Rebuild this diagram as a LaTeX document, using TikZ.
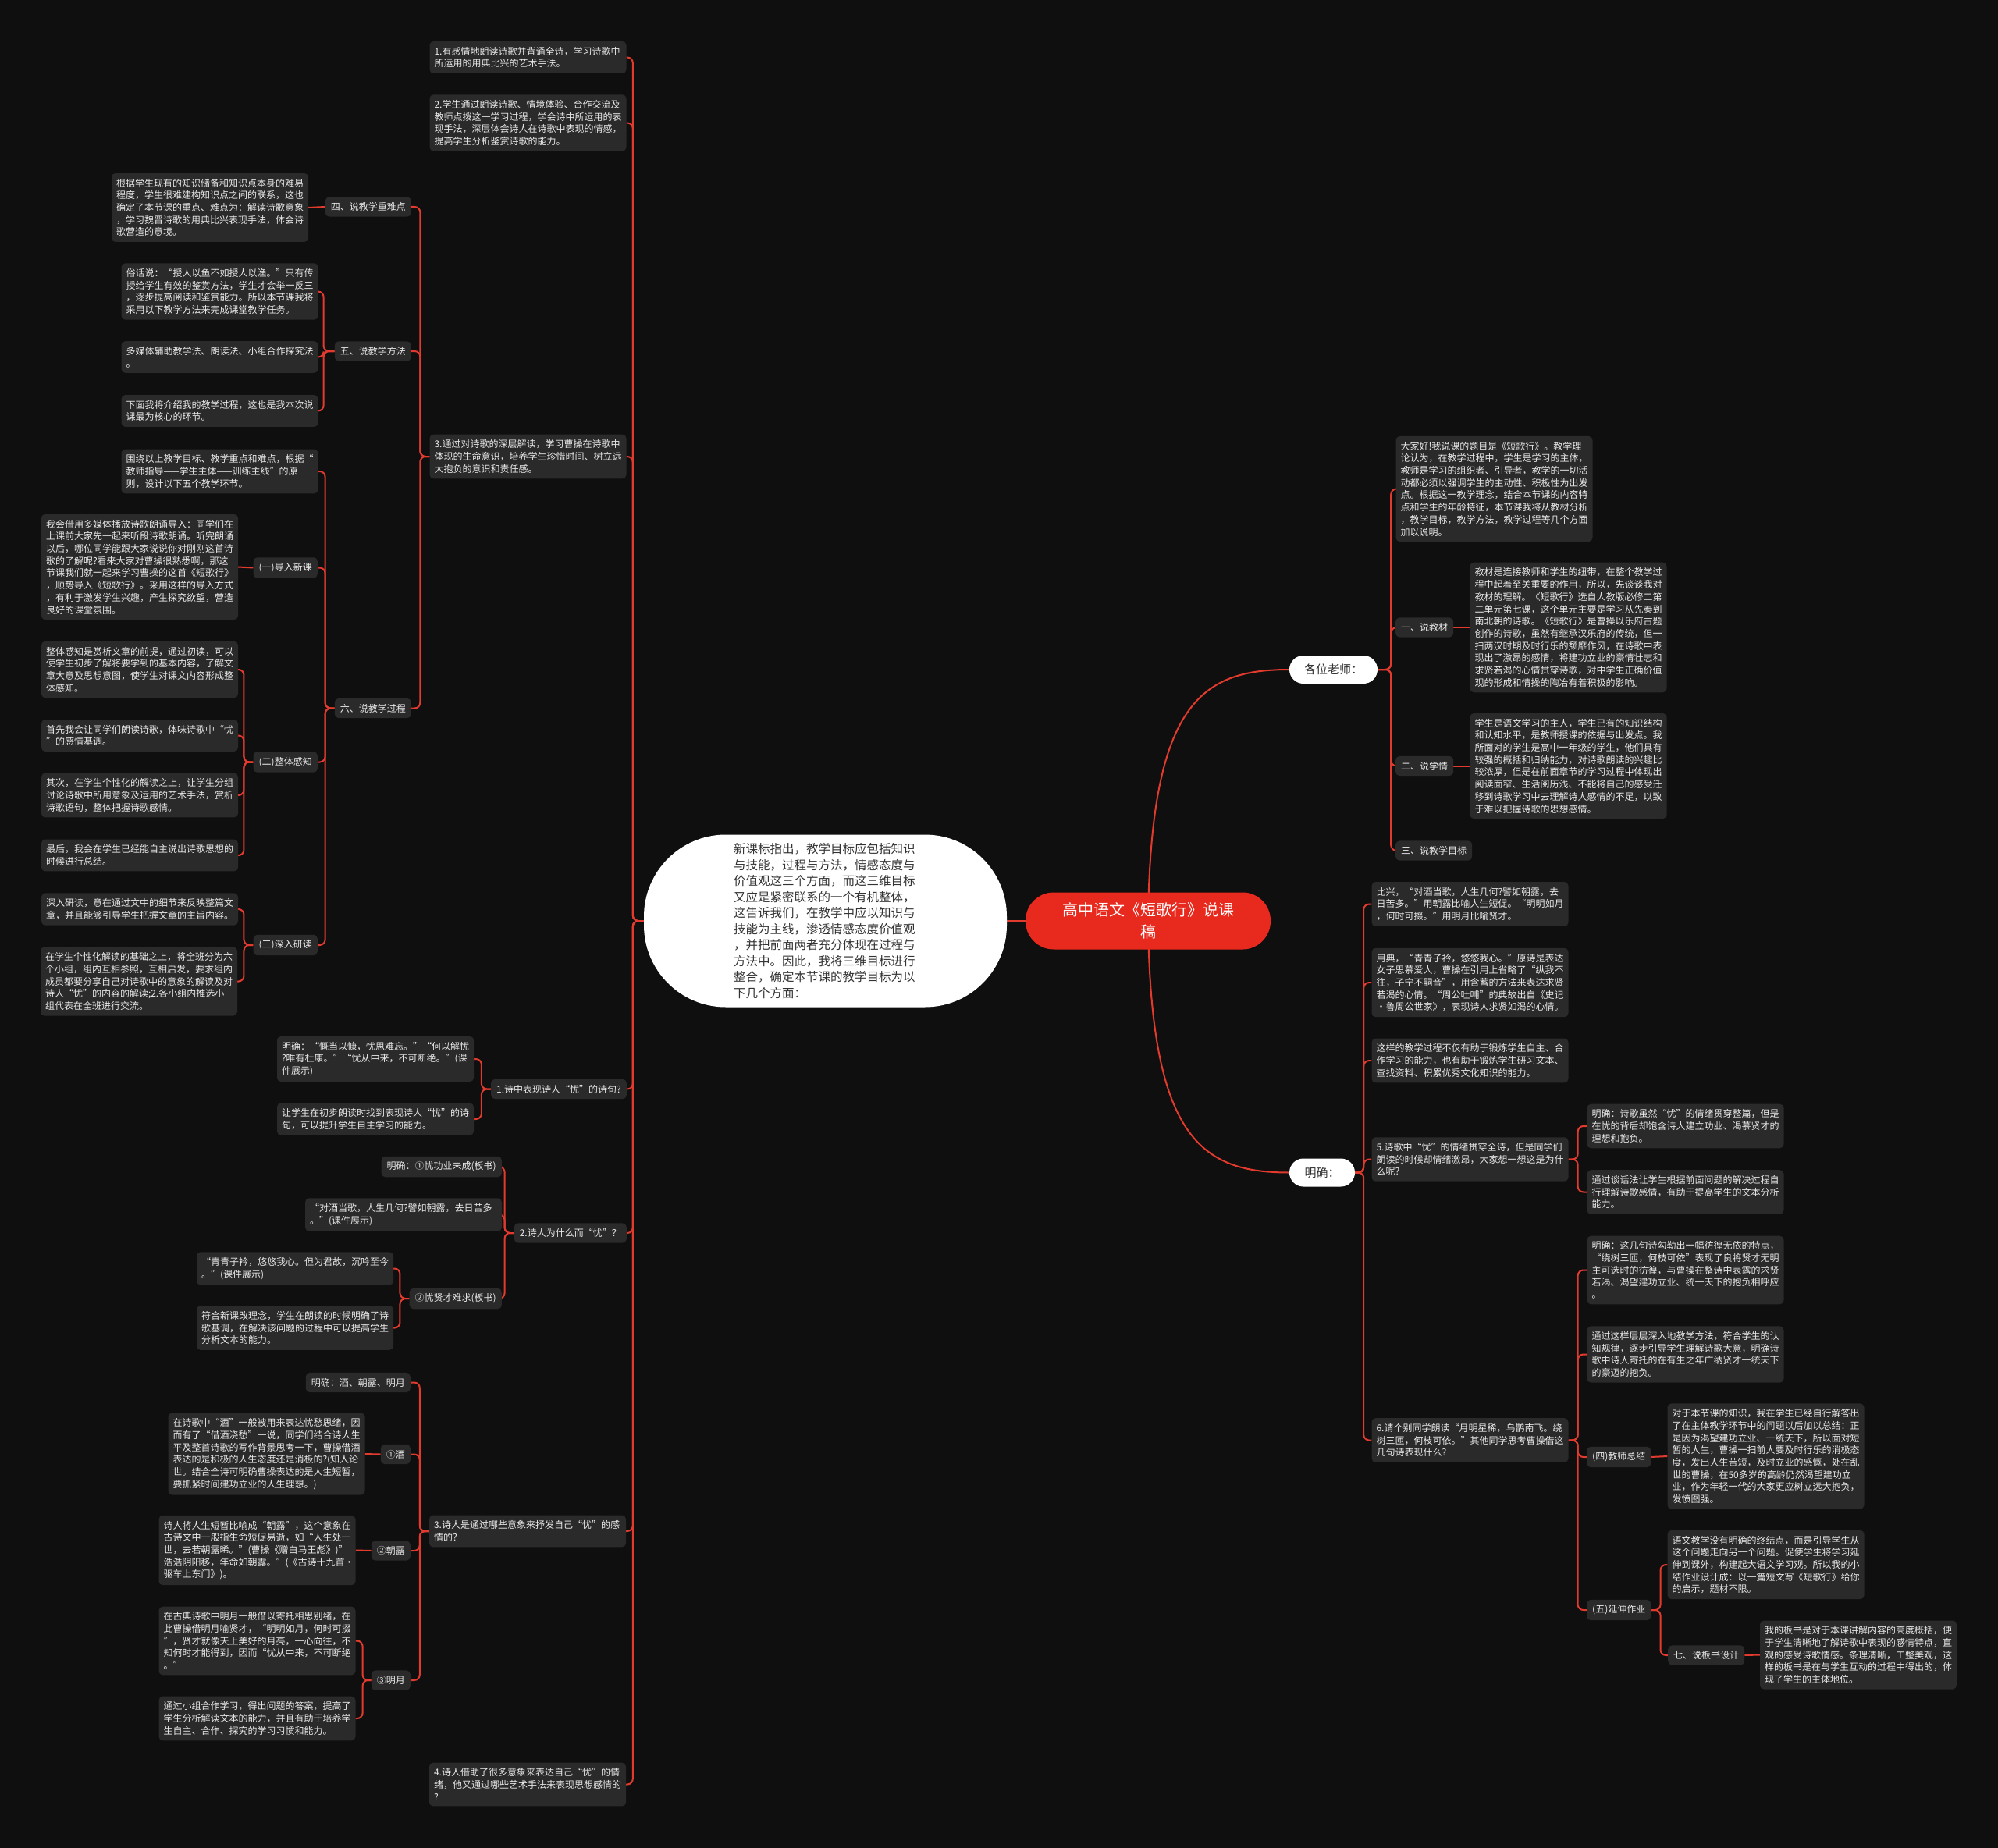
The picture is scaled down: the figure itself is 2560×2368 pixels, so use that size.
\documentclass[tikz,border=0pt]{standalone}
\usepackage{fontspec}
\setmainfont{Noto Sans CJK SC}
\usetikzlibrary{calc}
\definecolor{bgc}{HTML}{0F0F0F}
\definecolor{boxc}{HTML}{2A2A2A}
\definecolor{txtc}{HTML}{E8E8E8}
\definecolor{linkc}{HTML}{E23B2E}
\definecolor{rootc}{HTML}{E8291D}
\definecolor{darktxt}{HTML}{333333}
\pgfdeclarelayer{bgl}\pgfdeclarelayer{edges}\pgfsetlayers{bgl,edges,main}
\newcommand\fsm{\fontsize{12}{15.7}\selectfont}
\newcommand\lk[3][12]{\draw[link] (#2.west) -- ++(-#1,0) |- (#3.east);}
\newcommand\rk[3][12]{\draw[link] (#2.east) -- ++(#1,0) |- (#3.west);}
\begin{document}
\begin{tikzpicture}[x=1pt,y=-1pt,
  box/.style={fill=boxc,text=txtc,rounded corners=5,font=\fsm,inner xsep=6,inner ysep=7,text width=240,align=left},
  lab/.style={fill=boxc,text=txtc,rounded corners=5,font=\fsm,inner xsep=7,inner ysep=7},
  link/.style={draw=linkc,line width=2,rounded corners=7},
  cen/.style={fill=white,text=darktxt,rounded corners=105,minimum width=465,minimum height=221,text width=235,align=left,font=\fontsize{15.5}{20.5}\selectfont},
  rootn/.style={fill=rootc,text=white,rounded corners=36,minimum width=314,minimum height=73,align=center,font=\fontsize{20}{28}\selectfont},
  pill/.style={fill=white,text=darktxt,rounded corners=18,minimum height=36,font=\fontsize{15}{18}\selectfont}]
\begin{pgfonlayer}{bgl}
\fill[bgc] (0,0) rectangle (2560,2368);
\end{pgfonlayer}
\useasboundingbox (0,0) rectangle (2560,2368);

% centre
\node[cen] (cen) at (1057.5,1180) {新课标指出，教学目标应包括知识\\与技能，过程与方法，情感态度与\\价值观这三个方面，而这三维目标\\又应是紧密联系的一个有机整体，\\这告诉我们，在教学中应以知识与\\技能为主线，渗透情感态度价值观\\，并把前面两者充分体现在过程与\\方法中。因此，我将三维目标进行\\整合，确定本节课的教学目标为以\\下几个方面：};
\node[rootn] (root) at (1471,1180) {高中语文《短歌行》说课\\稿};
\node[pill,minimum width=113] (gw) at (1708.5,858) {各位老师：};
\node[pill,minimum width=84] (mq) at (1694,1502.5) {明确：};

% left upper
\node[box] (a1) at (676.5,73.5) {1.有感情地朗读诗歌并背诵全诗，学习诗歌中\\所运用的用典比兴的艺术手法。};
\node[box] (a2) at (676.5,157.5) {2.学生通过朗读诗歌、情境体验、合作交流及\\教师点拨这一学习过程，学会诗中所运用的表\\现手法，深层体会诗人在诗歌中表现的情感，\\提高学生分析鉴赏诗歌的能力。};
\node[box] (a3) at (676.5,585) {3.通过对诗歌的深层解读，学习曹操在诗歌中\\体现的生命意识，培养学生珍惜时间、树立远\\大抱负的意识和责任感。};
\node[lab,anchor=east] (b4) at (527,265) {四、说教学重难点};
\node[box] (b4a) at (269,266) {根据学生现有的知识储备和知识点本身的难易\\程度，学生很难建构知识点之间的联系，这也\\确定了本节课的重点、难点为：解读诗歌意象\\，学习魏晋诗歌的用典比兴表现手法，体会诗\\歌营造的意境。};
\node[lab,anchor=east] (b5) at (527,450) {五、说教学方法};
\node[box] (b5a) at (281.5,373.5) {俗话说：“授人以鱼不如授人以渔。”只有传\\授给学生有效的鉴赏方法，学生才会举一反三\\，逐步提高阅读和鉴赏能力。所以本节课我将\\采用以下教学方法来完成课堂教学任务。};
\node[box] (b5b) at (281.5,457.5) {多媒体辅助教学法、朗读法、小组合作探究法\\。};
\node[box] (b5c) at (281.5,526.5) {下面我将介绍我的教学过程，这也是我本次说\\课最为核心的环节。};
\node[lab,anchor=east] (b6) at (527,907.5) {六、说教学过程};
\node[box] (b6a) at (281.5,604) {围绕以上教学目标、教学重点和难点，根据“\\教师指导——学生主体——训练主线”的原\\则，设计以下五个教学环节。};
\node[lab,anchor=east] (c1) at (407,727.5) {(一)导入新课};
\node[box] (c1a) at (179,726.5) {我会借用多媒体播放诗歌朗诵导入：同学们在\\上课前大家先一起来听段诗歌朗诵。听完朗诵\\以后，哪位同学能跟大家说说你对刚刚这首诗\\歌的了解呢?看来大家对曹操很熟悉啊，那这\\节课我们就一起来学习曹操的这首《短歌行》\\，顺势导入《短歌行》。采用这样的导入方式\\，有利于激发学生兴趣，产生探究欲望，营造\\良好的课堂氛围。};
\node[lab,anchor=east] (c2) at (407,976.5) {(二)整体感知};
\node[box] (c2a) at (179,858) {整体感知是赏析文章的前提，通过初读，可以\\使学生初步了解将要学到的基本内容，了解文\\章大意及思想意图，使学生对课文内容形成整\\体感知。};
\node[box] (c2b) at (179,942.5) {首先我会让同学们朗读诗歌，体味诗歌中“忧\\”的感情基调。};
\node[box] (c2c) at (179,1019) {其次，在学生个性化的解读之上，让学生分组\\讨论诗歌中所用意象及运用的艺术手法，赏析\\诗歌语句，整体把握诗歌感情。};
\node[box] (c2d) at (179,1096) {最后，我会在学生已经能自主说出诗歌思想的\\时候进行总结。};
\node[lab,anchor=east] (c3) at (407,1211) {(三)深入研读};
\node[box] (c3a) at (179,1165) {深入研读，意在通过文中的细节来反映整篇文\\章，并且能够引导学生把握文章的主旨内容。};
\node[box] (c3b) at (178,1257.5) {在学生个性化解读的基础之上，将全班分为六\\个小组，组内互相参照，互相启发，要求组内\\成员都要分享自己对诗歌中的意象的解读及对\\诗人“忧”的内容的解读;2.各小组内推选小\\组代表在全班进行交流。};

% left lower
\node[lab,anchor=east] (q1) at (803,1395.5) {1.诗中表现诗人“忧”的诗句?};
\node[box] (q1a) at (481,1357) {明确：“慨当以慷，忧思难忘。”“何以解忧\\?唯有杜康。”“忧从中来，不可断绝。”(课\\件展示)};
\node[box] (q1b) at (481,1434) {让学生在初步朗读时找到表现诗人“忧”的诗\\句，可以提升学生自主学习的能力。};
\node[lab,anchor=east] (q2) at (803,1580) {2.诗人为什么而“忧”？};
\node[lab,anchor=east] (q2a) at (643,1495) {明确：①忧功业未成(板书)};
\node[box] (q2b) at (517,1556.5) {“对酒当歌，人生几何?譬如朝露，去日苦多\\。”(课件展示)};
\node[lab,anchor=east] (q2c) at (643,1664) {②忧贤才难求(板书)};
\node[box] (q2c1) at (378,1625.5) {“青青子衿，悠悠我心。但为君故，沉吟至今\\。”(课件展示)};
\node[box] (q2c2) at (378,1701.5) {符合新课改理念，学生在朗读的时候明确了诗\\歌基调，在解决该问题的过程中可以提高学生\\分析文本的能力。};
\node[box] (q3) at (676,1962) {3.诗人是通过哪些意象来抒发自己“忧”的感\\情的?};
\node[lab,anchor=east] (q3a) at (526,1771.5) {明确：酒、朝露、明月};
\node[lab,anchor=east] (q3b) at (526,1863.5) {①酒};
\node[box] (q3b1) at (341.5,1863) {在诗歌中“酒”一般被用来表达忧愁思绪，因\\而有了“借酒浇愁”一说，同学们结合诗人生\\平及整首诗歌的写作背景思考一下，曹操借酒\\表达的是积极的人生态度还是消极的?(知人论\\世。结合全诗可明确曹操表达的是人生短暂，\\要抓紧时间建功立业的人生理想。)};
\node[lab,anchor=east] (q3c) at (526,1987) {②朝露};
\node[box] (q3c1) at (329.5,1986.5) {诗人将人生短暂比喻成“朝露”，这个意象在\\古诗文中一般指生命短促易逝，如“人生处一\\世，去若朝露晞。”(曹操《赠白马王彪》)”\\浩浩阴阳移，年命如朝露。”(《古诗十九首•\\驱车上东门》)。};
\node[lab,anchor=east] (q3d) at (526,2153) {③明月};
\node[box] (q3d1) at (329.5,2102.5) {在古典诗歌中明月一般借以寄托相思别绪，在\\此曹操借明月喻贤才，“明明如月，何时可掇\\”，贤才就像天上美好的月亮，一心向往，不\\知何时才能得到，因而“忧从中来，不可断绝\\。”};
\node[box] (q3d2) at (329.5,2202) {通过小组合作学习，得出问题的答案，提高了\\学生分析解读文本的能力，并且有助于培养学\\生自主、合作、探究的学习习惯和能力。};
\node[box] (q4) at (676,2286.5) {4.诗人借助了很多意象来表达自己“忧”的情\\绪，他又通过哪些艺术手法来表现思想感情的\\?};

% right upper
\node[box] (r1) at (1914.5,626.5) {大家好!我说课的题目是《短歌行》。教学理\\论认为，在教学过程中，学生是学习的主体，\\教师是学习的组织者、引导者，教学的一切活\\动都必须以强调学生的主动性、积极性为出发\\点。根据这一教学理念，结合本节课的内容特\\点和学生的年龄特征，本节课我将从教材分析\\，教学目标，教学方法，教学过程等几个方面\\加以说明。};
\node[lab,anchor=west] (r2) at (1788,804) {一、说教材};
\node[box] (r2a) at (2009.5,804) {教材是连接教师和学生的纽带，在整个教学过\\程中起着至关重要的作用，所以，先谈谈我对\\教材的理解。《短歌行》选自人教版必修二第\\二单元第七课，这个单元主要是学习从先秦到\\南北朝的诗歌。《短歌行》是曹操以乐府古题\\创作的诗歌，虽然有继承汉乐府的传统，但一\\扫两汉时期及时行乐的颓靡作风，在诗歌中表\\现出了激昂的感情，将建功立业的豪情壮志和\\求贤若渴的心情贯穿诗歌，对中学生正确价值\\观的形成和情操的陶冶有着积极的影响。};
\node[lab,anchor=west] (r3) at (1788,981.5) {二、说学情};
\node[box] (r3a) at (2009.5,981.5) {学生是语文学习的主人，学生已有的知识结构\\和认知水平，是教师授课的依据与出发点。我\\所面对的学生是高中一年级的学生，他们具有\\较强的概括和归纳能力，对诗歌朗读的兴趣比\\较浓厚，但是在前面章节的学习过程中体现出\\阅读面窄、生活阅历浅、不能将自己的感受迁\\移到诗歌学习中去理解诗人感情的不足，以致\\于难以把握诗歌的思想感情。};
\node[lab,anchor=west] (r4) at (1788,1090) {三、说教学目标};

% right lower
\node[box] (m1) at (1883.5,1158.5) {比兴，“对酒当歌，人生几何?譬如朝露，去\\日苦多。”用朝露比喻人生短促。“明明如月\\，何时可掇。”用明月比喻贤才。};
\node[box] (m2) at (1883.5,1259) {用典，“青青子衿，悠悠我心。”原诗是表达\\女子思慕爱人，曹操在引用上省略了“纵我不\\往，子宁不嗣音”，用含蓄的方法来表达求贤\\若渴的心情。“周公吐哺”的典故出自《史记\\•鲁周公世家》，表现诗人求贤如渴的心情。};
\node[box] (m3) at (1883.5,1359) {这样的教学过程不仅有助于锻炼学生自主、合\\作学习的能力，也有助于锻炼学生研习文本、\\查找资料、积累优秀文化知识的能力。};
\node[box] (m4) at (1883.5,1485.5) {5.诗歌中“忧”的情绪贯穿全诗，但是同学们\\朗读的时候却情绪激昂，大家想一想这是为什\\么呢?};
\node[box] (m4a) at (2159.5,1443) {明确：诗歌虽然“忧”的情绪贯穿整篇，但是\\在忧的背后却饱含诗人建立功业、渴慕贤才的\\理想和抱负。};
\node[box] (m4b) at (2159.5,1527.5) {通过谈话法让学生根据前面问题的解决过程自\\行理解诗歌感情，有助于提高学生的文本分析\\能力。};
\node[box] (m5) at (1883.5,1845.5) {6.请个别同学朗读“月明星稀，乌鹊南飞。绕\\树三匝，何枝可依。”其他同学思考曹操借这\\几句诗表现什么?};
\node[box] (m5a) at (2159.5,1627.5) {明确：这几句诗勾勒出一幅彷徨无依的特点，\\“绕树三匝，何枝可依”表现了良将贤才无明\\主可选时的彷徨，与曹操在整诗中表露的求贤\\若渴、渴望建功立业、统一天下的抱负相呼应\\。};
\node[box] (m5b) at (2159.5,1735.5) {通过这样层层深入地教学方法，符合学生的认\\知规律，逐步引导学生理解诗歌大意，明确诗\\歌中诗人寄托的在有生之年广纳贤才一统天下\\的豪迈的抱负。};
\node[lab,anchor=west] (m5c) at (2033,1867) {(四)教师总结};
\node[box] (m5c1) at (2262.5,1866) {对于本节课的知识，我在学生已经自行解答出\\了在主体教学环节中的问题以后加以总结：正\\是因为渴望建功立业、一统天下，所以面对短\\暂的人生，曹操一扫前人要及时行乐的消极态\\度，发出人生苦短，及时立业的感慨，处在乱\\世的曹操，在50多岁的高龄仍然渴望建功立\\业，作为年轻一代的大家更应树立远大抱负，\\发愤图强。};
\node[lab,anchor=west] (m5d) at (2033,2063) {(五)延伸作业};
\node[box] (m5d1) at (2262.5,2005) {语文教学没有明确的终结点，而是引导学生从\\这个问题走向另一个问题。促使学生将学习延\\伸到课外，构建起大语文学习观。所以我的小\\结作业设计成：以一篇短文写《短歌行》给你\\的启示，题材不限。};
\node[lab,anchor=west] (m5d2) at (2137,2121) {七、说板书设计};
\node[box] (m5d2a) at (2381,2120.5) {我的板书是对于本课讲解内容的高度概括，便\\于学生清晰地了解诗歌中表现的感情特点，直\\观的感受诗歌情感。条理清晰，工整美观，这\\样的板书是在与学生互动的过程中得出的，体\\现了学生的主体地位。};

\begin{pgfonlayer}{edges}
% root links
\draw[link] (cen.east) -- (root.west);
\draw[draw=linkc,line width=2] (root.center) .. controls (1474,900) and (1540,858) .. (gw.west);
\draw[draw=linkc,line width=2] (root.center) .. controls (1474,1460) and (1540,1502.5) .. (mq.west);
% left tree
\lk[14]{cen}{a1}\lk[14]{cen}{a2}\lk[14]{cen}{a3}\lk[14]{cen}{q1}\lk[14]{cen}{q2}\lk[14]{cen}{q3}\lk[14]{cen}{q4}
\lk{a3}{b4}\lk{a3}{b5}\lk{a3}{b6}
\draw[link] (b4.west) -- (b4a.east);
\lk[14]{b5}{b5a}\lk[14]{b5}{b5b}\lk[14]{b5}{b5c}
\lk{b6}{b6a}\lk{b6}{c1}\lk{b6}{c2}\lk{b6}{c3}
\draw[link] (c1.west) -- (c1a.east);
\lk{c2}{c2a}\lk{c2}{c2b}\lk{c2}{c2c}\lk{c2}{c2d}
\lk{c3}{c3a}\lk{c3}{c3b}
\lk{q1}{q1a}\lk{q1}{q1b}
\lk{q2}{q2a}\lk{q2}{q2b}\lk{q2}{q2c}
\lk{q2c}{q2c1}\lk{q2c}{q2c2}
\lk{q3}{q3a}\lk{q3}{q3b}\lk{q3}{q3c}\lk{q3}{q3d}
\draw[link] (q3b.west) -- (q3b1.east);
\draw[link] (q3c.west) -- (q3c1.east);
\lk[11]{q3d}{q3d1}\lk[11]{q3d}{q3d2}
% right tree
\rk[17]{gw}{r1}\rk[17]{gw}{r2}\rk[17]{gw}{r3}\rk[17]{gw}{r4}
\draw[link] (r2.east) -- (r2a.west);
\draw[link] (r3.east) -- (r3a.west);
\rk[11]{mq}{m1}\rk[11]{mq}{m2}\rk[11]{mq}{m3}\rk[11]{mq}{m4}\rk[11]{mq}{m5}
\rk{m4}{m4a}\rk{m4}{m4b}
\rk{m5}{m5a}\rk{m5}{m5b}\rk{m5}{m5c}\rk{m5}{m5d}
\draw[link] (m5c.east) -- (m5c1.west);
\rk{m5d}{m5d1}\rk{m5d}{m5d2}
\draw[link] (m5d2.east) -- (m5d2a.west);
\end{pgfonlayer}
\end{tikzpicture}
\end{document}
